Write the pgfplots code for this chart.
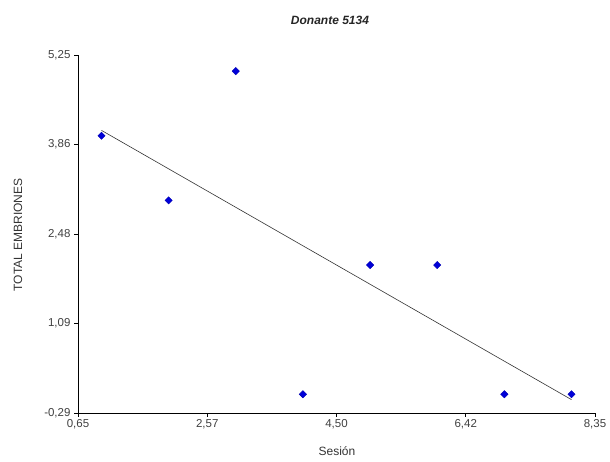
\documentclass[border=0pt]{standalone}
\usepackage{pgfplots}
\pgfplotsset{compat=1.18}
\usepackage{fontspec}
\setmainfont{Liberation Sans}
\begin{document}
\begin{tikzpicture}[x=1pt,y=1pt]
\useasboundingbox (0,0) rectangle (610,462);
\begin{axis}[
  at={(78pt,49pt)}, anchor=south west,
  scale only axis, width=517pt, height=358pt,
  xmin=0.65, xmax=8.35, ymin=-0.29, ymax=5.25,
  axis x line=bottom, axis y line=left,
  axis line style={-, black, line width=0.9pt},
  xtick={0.65,2.575,4.5,6.425,8.35},
  xticklabels={0{,}65,2{,}57,4{,}50,6{,}42,8{,}35},
  ytick={-0.29,1.095,2.48,3.865,5.25},
  yticklabels={-0{,}29,1{,}09,2{,}48,3{,}86,5{,}25},
  tick align=outside, major tick length=4pt,
  tick style={black, line width=0.8pt},
  ticklabel style={font=\fontsize{11.5}{13}\selectfont, text=black!75},
  xticklabel style={yshift=1pt},
  clip=false,
]
\addplot[only marks, mark=square*, mark size=2.6pt, mark options={rotate=45, fill=blue!85!black, draw=blue!70!black}]
  coordinates {(1,4) (2,3) (3,5) (4,0) (5,2) (6,2) (7,0) (8,0)};
\addplot[black!80, line width=0.6pt] coordinates {(1,4.0833) (8,-0.0833)};
\end{axis}
\node[font=\bfseries\itshape\fontsize{12}{14}\selectfont, text=black!85] at (330,442) {Donante 5134};
\node[font=\fontsize{12}{14}\selectfont, text=black!80] at (337,11) {Sesión};
\node[font=\fontsize{12}{14}\selectfont, text=black!80, rotate=90] at (18,227) {TOTAL EMBRIONES};
\end{tikzpicture}
\end{document}
